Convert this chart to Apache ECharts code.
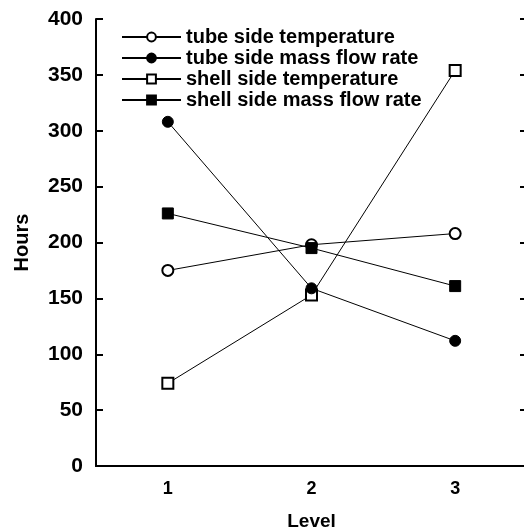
<!DOCTYPE html>
<html>
<head>
<meta charset="utf-8">
<script src="https://cdn.jsdelivr.net/npm/echarts@6/dist/echarts.min.js"></script>
<style>
  html, body { margin: 0; padding: 0; background: #fff; }
  #chart { width: 524px; height: 532px; }
</style>
</head>
<body>
<div id="chart"></div>
<script>
// 数据
var levels = ['1', '2', '3'];
var tubeTemp = [175, 198, 208];
var tubeFlow = [308, 159, 112];
var shellTemp = [74, 153, 354];
var shellFlow = [226, 195, 161];
var yTicks = [0, 50, 100, 150, 200, 250, 300, 350, 400];

var chart = echarts.init(document.getElementById('chart'));
var font = 'Liberation Sans, Arial, sans-serif';

function lineSeries(name, data, symbol, z) {
  return {
    name: name,
    type: 'line',
    data: data,
    symbol: symbol,
    symbolSize: 11,
    z: z,
    lineStyle: { color: '#000', width: 1 },
    itemStyle: { color: '#000', borderColor: '#000', borderWidth: 1 },
    emphasis: { disabled: true }
  };
}

var option = {
  animation: false,
  grid: { left: 96, right: -3, top: 19, bottom: 66, outerBoundsMode: 'none' },
  legend: {
    orient: 'vertical',
    left: 121,
    top: 27,
    padding: 0,
    itemWidth: 59,
    itemHeight: 11,
    itemGap: 1,
    textStyle: { fontFamily: font, fontWeight: 'bold', fontSize: 20, color: '#000' },
    data: ['tube side temperature', 'tube side mass flow rate', 'shell side temperature', 'shell side mass flow rate']
  },
  xAxis: [{
    type: 'category',
    data: levels,
    boundaryGap: true,
    name: 'Level',
    nameLocation: 'middle',
    nameGap: 46,
    nameTextStyle: { fontFamily: font, fontWeight: 'bold', fontSize: 19, color: '#000' },
    axisLine: { lineStyle: { color: '#000', width: 2 } },
    axisTick: { alignWithLabel: true, inside: true, length: 7, lineStyle: { color: '#000', width: 2 } },
    axisLabel: { margin: 14, fontFamily: font, fontWeight: 'bold', fontSize: 18, color: '#000' },
    splitLine: { show: false }
  }, {
    type: 'category',
    data: levels,
    position: 'top',
    boundaryGap: true,
    axisLine: { lineStyle: { color: '#000', width: 2 } },
    axisTick: { alignWithLabel: true, inside: true, length: 7, lineStyle: { color: '#000', width: 2 } },
    axisLabel: { show: false },
    splitLine: { show: false }
  }],
  yAxis: [{
    type: 'value',
    min: yTicks[0],
    max: yTicks[yTicks.length - 1],
    interval: 50,
    name: 'Hours',
    nameLocation: 'middle',
    nameGap: 64,
    nameTextStyle: { fontFamily: font, fontWeight: 'bold', fontSize: 20, color: '#000' },
    axisLine: { show: true, lineStyle: { color: '#000', width: 2 } },
    axisTick: { show: true, inside: true, length: 7, lineStyle: { color: '#000', width: 2 } },
    axisLabel: { margin: 13, fontFamily: font, fontWeight: 'bold', fontSize: 21, color: '#000' },
    splitLine: { show: false }
  }, {
    type: 'value',
    position: 'right',
    min: yTicks[0],
    max: yTicks[yTicks.length - 1],
    interval: 50,
    axisLine: { show: true, lineStyle: { color: '#000', width: 2 } },
    axisTick: { show: true, inside: true, length: 7, lineStyle: { color: '#000', width: 2 } },
    axisLabel: { show: false },
    splitLine: { show: false }
  }],
  series: [
    lineSeries('tube side temperature', tubeTemp, 'emptyCircle', 2),
    lineSeries('tube side mass flow rate', tubeFlow, 'circle', 4),
    lineSeries('shell side temperature', shellTemp, 'emptyRect', 3),
    lineSeries('shell side mass flow rate', shellFlow, 'rect', 5)
  ]
};

chart.setOption(option);
</script>
</body>
</html>
